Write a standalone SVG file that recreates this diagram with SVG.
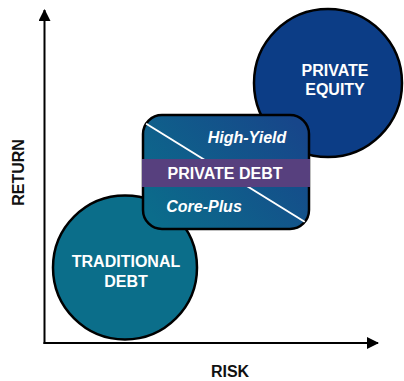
<svg xmlns="http://www.w3.org/2000/svg" width="404" height="381" viewBox="0 0 404 381">
  <defs>
    <style>
      .lbl { font-family: "Liberation Sans", Arial, sans-serif; font-weight: bold; font-size: 16px; fill: #ffffff; text-anchor: middle; }
      .it { font-style: italic; }
      .axis-lbl { font-family: "Liberation Sans", Arial, sans-serif; font-weight: bold; font-size: 16px; fill: #111111; text-anchor: middle; }
      .axis { stroke: #000000; stroke-width: 2; fill: none; }
      .node-outline { stroke: #000000; stroke-width: 2.5; }
    </style>
    <marker id="arrowhead" viewBox="0 0 12 12" refX="11" refY="6" markerWidth="12" markerHeight="12" markerUnits="userSpaceOnUse" orient="auto">
      <path d="M0,0 L12,6 L0,12 Z" fill="#000000"/>
    </marker>
    <linearGradient id="debtFill" x1="0" y1="0.8" x2="1" y2="0.2">
      <stop offset="0" stop-color="#0b6c8b"/>
      <stop offset="1" stop-color="#17468a"/>
    </linearGradient>
    <clipPath id="debtClip">
      <rect x="143" y="115" width="166" height="114" rx="19" ry="19"/>
    </clipPath>
  </defs>

  <!-- axes -->
  <g id="connectors">
    <line class="axis" x1="44.5" y1="344" x2="44.5" y2="10" marker-end="url(#arrowhead)"/>
    <line class="axis" x1="43.5" y1="343" x2="378" y2="343" marker-end="url(#arrowhead)"/>
  </g>

  <g id="axis-labels">
    <text class="axis-lbl" transform="translate(23.5,172.5) rotate(-90)">RETURN</text>
    <text class="axis-lbl" x="230" y="377">RISK</text>
  </g>

  <g id="traditional-debt">
    <circle class="node-outline" cx="125" cy="267.5" r="72" fill="#0b6e8a"/>
    <text class="lbl" x="126" y="267">TRADITIONAL</text>
    <text class="lbl" x="126" y="286.5">DEBT</text>
  </g>

  <g id="private-equity">
    <circle class="node-outline" cx="328" cy="83" r="74" fill="#0c3d86"/>
    <text class="lbl" x="335" y="76">PRIVATE</text>
    <text class="lbl" x="335" y="94.5">EQUITY</text>
  </g>

  <g id="private-debt">
    <rect class="node-outline" x="143" y="115" width="166" height="114" rx="19" ry="19" fill="url(#debtFill)"/>
    <line x1="145" y1="123" x2="305" y2="222" stroke="#ffffff" stroke-width="2" clip-path="url(#debtClip)"/>
    <rect x="142" y="159" width="168" height="28" fill="#57407e"/>
    <text class="lbl it" x="247" y="143">High-Yield</text>
    <text class="lbl" x="225" y="178.5">PRIVATE DEBT</text>
    <text class="lbl it" x="204" y="212">Core-Plus</text>
  </g>
</svg>
